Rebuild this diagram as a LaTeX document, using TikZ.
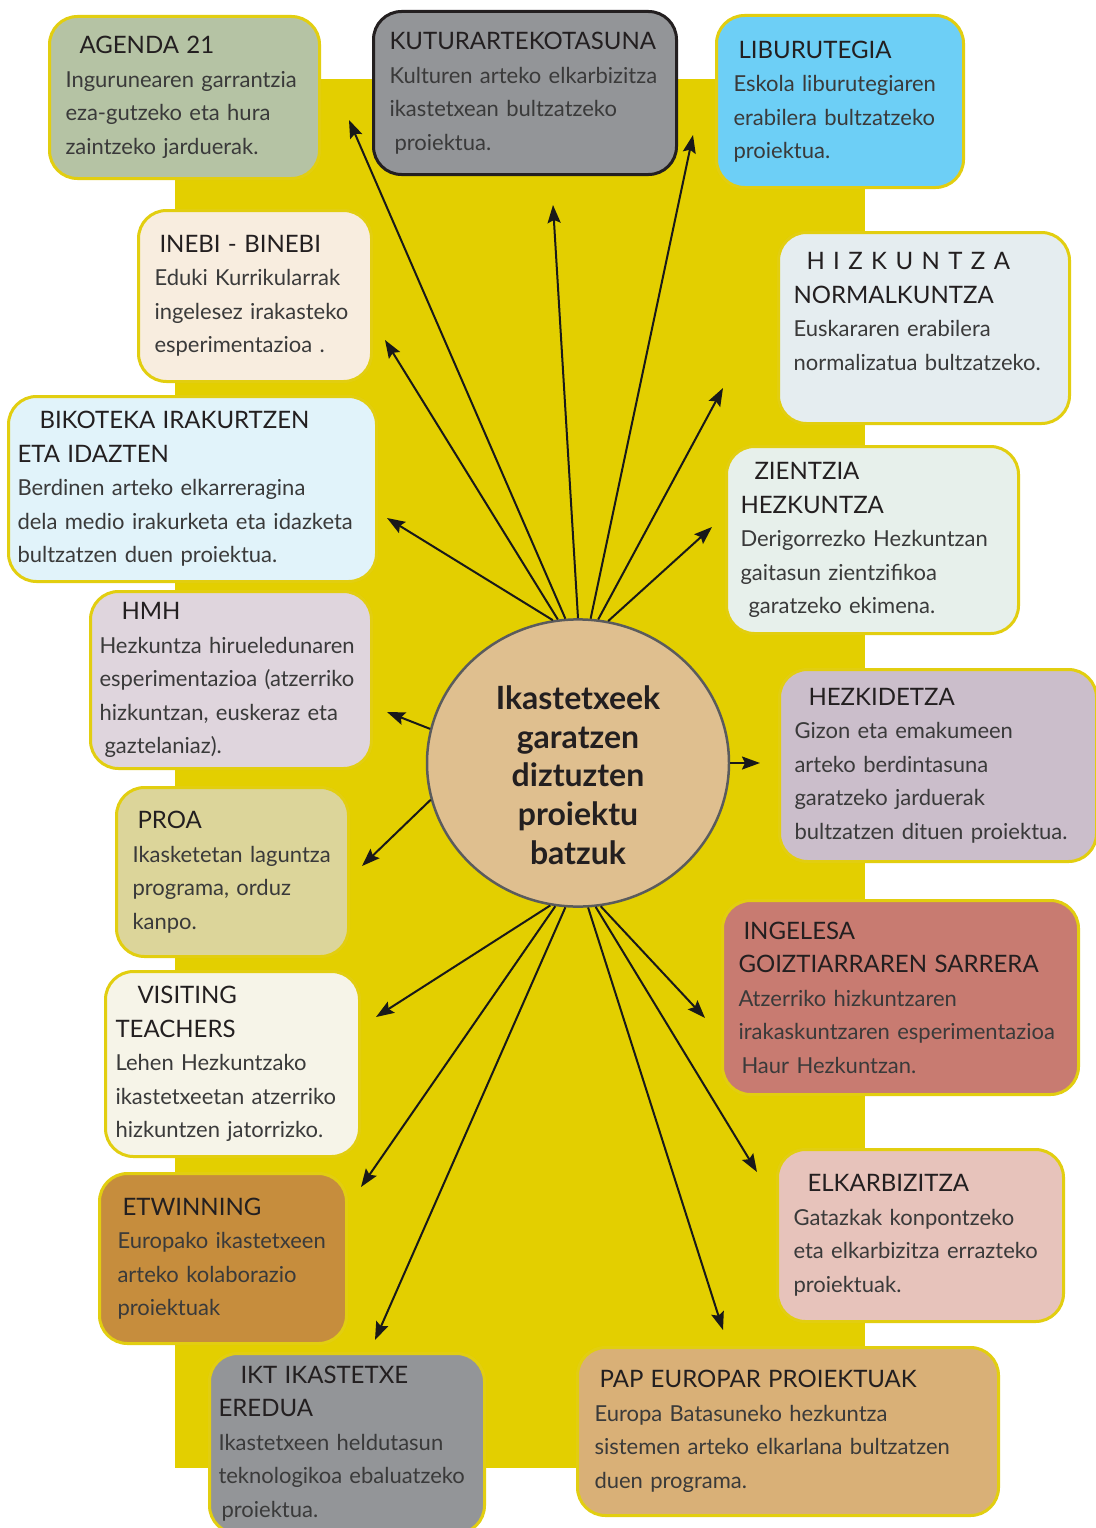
\documentclass[tikz,border=0pt]{standalone}
\usepackage{fontspec}
\setmainfont{Lato}
\usetikzlibrary{arrows.meta,shapes.geometric}
\definecolor{bgyellow}{HTML}{E3CF00}
\definecolor{cardline}{HTML}{E2CE10}
\definecolor{darkline}{HTML}{231F20}
\definecolor{titletxt}{HTML}{231F20}
\definecolor{bodytxt}{HTML}{3A3A3A}
\definecolor{agendaC}{HTML}{B5C3A4}
\definecolor{kuturC}{HTML}{939598}
\definecolor{liburC}{HTML}{6DCFF6}
\definecolor{inebiC}{HTML}{F8EDDF}
\definecolor{hizkC}{HTML}{E5EDF0}
\definecolor{bikotC}{HTML}{E1F3FA}
\definecolor{zientC}{HTML}{E7F0EB}
\definecolor{hmhC}{HTML}{DFD5DD}
\definecolor{hezkC}{HTML}{CBBECB}
\definecolor{proaC}{HTML}{DCD59A}
\definecolor{visitC}{HTML}{F6F4E8}
\definecolor{ingelC}{HTML}{C87B71}
\definecolor{etwinC}{HTML}{C68D3D}
\definecolor{elkarC}{HTML}{E7C3BB}
\definecolor{iktC}{HTML}{939598}
\definecolor{papC}{HTML}{D9B077}
\definecolor{hubC}{HTML}{DFBF8F}
\definecolor{hubline}{HTML}{5A5B5D}
\newcommand{\cardtitle}[1]{{\fontsize{24}{33.5}\selectfont\color{titletxt}#1}}
\tikzstyle{card}=[draw=cardline, line width=3pt, rounded corners=28pt, anchor=north west, align=left, inner ysep=6pt, text=bodytxt, font=\fontsize{22}{33.5}\selectfont]
\tikzstyle{hub}=[ellipse, draw=hubline, line width=2.5pt, fill=hubC, minimum width=302pt, minimum height=282pt, inner sep=0pt, align=center, text=titletxt, font=\bfseries\fontsize{32}{38.7}\selectfont]
\tikzstyle{arrow}=[draw=black!90, line width=2pt, >={Stealth[length=18pt, width=13pt, inset=3pt]}]

\begin{document}
\begin{tikzpicture}[x=1pt, y=-1pt]
    \useasboundingbox (0,0) rectangle (1095,1528);
    \fill[white] (0,0) rectangle (1095,1528);
    \fill[bgyellow] (175,79) rectangle (865,1468);

    % project boxes, left column
    \node[card, fill=agendaC, inner xsep=16pt, text width=238pt, minimum height=162pt] (agenda) at (48,15)
        {\cardtitle{\hspace*{14pt}AGENDA 21}\\Ingurunearen garrantzia\\eza-gutzeko eta hura\\zaintzeko jarduerak.};
    \node[card, fill=inebiC, inner xsep=16pt, text width=201pt, minimum height=171pt] (inebi) at (137,209)
        {\cardtitle{\hspace*{5pt}INEBI - BINEBI}\\Eduki Kurrikularrak\\ingelesez irakasteko\\esperimentazioa .};
    \node[card, fill=bikotC, inner xsep=9pt, text width=350pt, minimum height=185pt] (bikot) at (7,395)
        {\cardtitle{\hspace*{22pt}BIKOTEKA IRAKURTZEN}\\\cardtitle{ETA IDAZTEN}\\Berdinen arteko elkarreragina\\dela medio irakurketa eta idazketa\\bultzatzen duen proiektua.};
    \node[card, fill=hmhC, inner xsep=9pt, text width=263pt, minimum height=177pt] (hmh) at (89,590)
        {\cardtitle{\hspace*{22pt}HMH}\\Hezkuntza hirueledunaren\\esperimentazioa (atzerriko\\hizkuntzan, euskeraz eta\\\hspace*{5pt}gaztelaniaz).};
    \node[card, fill=proaC, inner xsep=16pt, text width=200pt, minimum height=169pt] (proa) at (115,786)
        {\cardtitle{\hspace*{5pt}PROA}\\Ikasketetan laguntza\\programa, orduz\\kanpo.};
    \node[card, fill=visitC, inner xsep=10pt, text width=234pt, minimum height=185pt] (visit) at (104,970)
        {\cardtitle{\hspace*{22pt}VISITING}\\\cardtitle{TEACHERS}\\Lehen Hezkuntzako\\ikastetxeetan atzerriko\\hizkuntzen jatorrizko.};
    \node[card, fill=etwinC, inner xsep=18pt, text width=211pt, minimum height=170pt] (etwin) at (98,1172)
        {\cardtitle{\hspace*{5pt}ETWINNING}\\Europako ikastetxeen\\arteko kolaborazio\\proiektuak};
    \node[card, fill=iktC, inner xsep=9pt, text width=257pt, minimum height=180pt] (ikt) at (208,1352)
        {\cardtitle{\hspace*{22pt}IKT IKASTETXE}\\\cardtitle{EREDUA}\\Ikastetxeen heldutasun\\teknologikoa ebaluatzeko\\\hspace*{3pt}proiektua.};

    % project boxes, top and right column
    \node[card, draw=darkline, fill=kuturC, inner xsep=16pt, text width=271pt, minimum height=163pt] (kutur) at (372,10)
        {\cardtitle{KUTURARTEKOTASUNA}\\Kulturen arteko elkarbizitza\\ikastetxean bultzatzeko\\\hspace*{5pt}proiektua.};
    \node[card, fill=liburC, inner xsep=17pt, text width=213pt, minimum height=172pt] (libur) at (715,14)
        {\cardtitle{\hspace*{5pt}LIBURUTEGIA}\\Eskola liburutegiaren\\erabilera bultzatzeko\\proiektua.};
    \node[card, fill=hizkC, inner xsep=15pt, text width=261pt, minimum height=191pt] (hizk) at (777,231)
        {\cardtitle{\hspace*{13pt}\addfontfeatures{LetterSpace=35}HIZKUNTZA}\\\cardtitle{NORMALKUNTZA}\\Euskararen erabilera\\normalizatua bultzatzeko.\\\mbox{}};
    \node[card, fill=zientC, inner xsep=14pt, text width=264pt, minimum height=187pt] (zient) at (725,445)
        {\cardtitle{\hspace*{14pt}ZIENTZIA}\\\cardtitle{HEZKUNTZA}\\Derigorrezko Hezkuntzan\\gaitasun zientzifikoa\\\hspace*{8pt}garatzeko ekimena.};
    \node[card, fill=hezkC, inner xsep=15pt, text width=287pt, minimum height=192pt] (hezk) at (778,668)
        {\cardtitle{\hspace*{14pt}HEZKIDETZA}\\Gizon eta emakumeen\\arteko berdintasuna\\garatzeko jarduerak\\bultzatzen dituen proiektua.};
    \node[card, fill=ingelC, inner xsep=16pt, text width=324pt, minimum height=194pt] (ingel) at (721,899)
        {\cardtitle{\hspace*{5pt}INGELESA}\\\cardtitle{GOIZTIARRAREN SARRERA}\\Atzerriko hizkuntzaren\\irakaskuntzaren esperimentazioa\\\hspace*{3pt}Haur Hezkuntzan.};
    \node[card, fill=elkarC, inner xsep=16pt, text width=254pt, minimum height=172pt] (elkar) at (776,1148)
        {\cardtitle{\hspace*{14pt}ELKARBIZITZA}\\Gatazkak konpontzeko\\eta elkarbizitza errazteko\\proiektuak.};
    \node[card, fill=papC, inner xsep=17pt, text width=387pt, minimum height=168pt] (pap) at (576,1346)
        {\cardtitle{\hspace*{5pt}PAP EUROPAR PROIEKTUAK}\\Europa Batasuneko hezkuntza\\sistemen arteko elkarlana bultzatzen\\duen programa.};

    % centre
    \node[hub] (hub) at (578,763) {\rule{0pt}{48pt}Ikastetxeek\\garatzen\\diztuzten\\proiektu\\batzuk};

    % arrow tips
    \coordinate (tAgenda) at (349,120);
    \coordinate (tKutur) at (553,205);
    \coordinate (tLibur) at (693,135);
    \coordinate (tInebi) at (385,340);
    \coordinate (tHizk) at (723,388);
    \coordinate (tBikot) at (387,518);
    \coordinate (tZient) at (712,527);
    \coordinate (tHmh) at (387,712);
    \coordinate (tHezk) at (760,763);
    \coordinate (tProa) at (362,866);
    \coordinate (tVisit) at (376,1017);
    \coordinate (tIngel) at (705,1018);
    \coordinate (tEtwin) at (361,1187);
    \coordinate (tElkar) at (757,1172);
    \coordinate (tIkt) at (375,1340);
    \coordinate (tPap) at (723,1330);

    \draw[arrow, ->] (hub.95) -- (tAgenda);
    \draw[arrow, ->] (hub.90) -- (tKutur);
    \draw[arrow, ->] (hub.85) -- (tLibur);
    \draw[arrow, ->] (hub.98) -- (tInebi);
    \draw[arrow, ->] (hub.82) -- (tHizk);
    \draw[arrow, ->] (hub.100) -- (tBikot);
    \draw[arrow, ->] (hub.78) -- (tZient);
    \draw[arrow, ->] (hub.167) -- (tHmh);
    \draw[arrow, ->] (hub.0) -- (tHezk);
    \draw[arrow, ->] (hub.194) -- (tProa);
    \draw[arrow, ->] (hub.259) -- (tVisit);
    \draw[arrow, ->] (hub.279) -- (tIngel);
    \draw[arrow, ->] (hub.261) -- (tEtwin);
    \draw[arrow, ->] (hub.277) -- (tElkar);
    \draw[arrow, ->] (hub.265) -- (tIkt);
    \draw[arrow, ->] (hub.274) -- (tPap);
\end{tikzpicture}
\end{document}
